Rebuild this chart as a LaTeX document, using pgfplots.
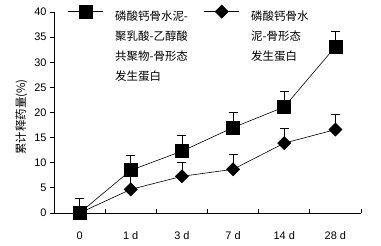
\documentclass[border=0pt]{standalone}
\usepackage{pgfplots}
\pgfplotsset{compat=1.18}
\usepackage{fontspec}
\setmainfont{Liberation Sans}
\newfontfamily\cjk{Noto Sans CJK SC}
\begin{document}
\begin{tikzpicture}
\useasboundingbox (-54bp,-33bp) rectangle (327bp,213bp);
\begin{axis}[
  at={(0,0)}, anchor=south west,
  width=307bp, height=201bp, scale only axis,
  xmin=-0.5, xmax=5.5, ymin=0, ymax=40,
  axis lines*=left,
  axis line style={line width=0.8pt},
  clip=false,
  /pgf/number format/assume math mode=true,
  tick label style={font=\fontsize{11}{12}\selectfont},
  xtick={0.5,1.5,2.5,3.5,4.5,5.5},
  xticklabels={0,1 d,3 d,7 d,14 d,28 d},
  x tick label style={xshift=-25.6bp, yshift=-15bp},
  ytick={0,5,...,40},
  tick align=inside,
  major tick length=4bp,
  tick style={black, line width=0.8pt},
  y tick style={xshift=-4bp},
  y tick label style={xshift=-4bp},
  ylabel={\cjk 累计释药量(\%)},
  ylabel style={font=\fontsize{11.5}{12}\selectfont, at={(ticklabel cs:0.478)}},
  legend columns=2,
  legend cell align=left,
  legend style={draw=none, fill=none, at={(0.035,1.045)}, anchor=north west,
    font=\cjk\fontsize{11.5}{20}\selectfont,
    nodes={align=left, anchor=north west, yshift=3bp},
    /tikz/every even column/.append style={column sep=14bp}},
  legend image code/.code={\path[draw=none,fill=none] (0bp,-2bp) rectangle (45bp,2bp);\draw[mark repeat=2,mark phase=2,#1] plot coordinates {(0bp,0bp) (17.5bp,0bp) (35bp,0bp)};},
]
\addplot+[black, line width=0.6pt, mark=square*, mark size=6.5bp, mark options={fill=black, solid},
  error bars/.cd, y dir=plus, y explicit,
  error bar style={line width=0.6pt, black},
  error mark options={black, mark size=4.5bp, line width=0.6pt, rotate=90}]
coordinates {
(0,0) +- (0,3.0)
(1,8.5) +- (0,2.9)
(2,12.3) +- (0,3.1)
(3,17.0) +- (0,3.0)
(4,21.1) +- (0,3.2)
(5,33.1) +- (0,3.1)
};
\addlegendentry{磷酸钙骨水泥-\\聚乳酸-乙醇酸\\共聚物-骨形态\\发生蛋白}
\addplot+[black, line width=0.6pt, mark=square*, mark size=4.6bp, mark options={fill=black, solid, rotate=45},
  error bars/.cd, y dir=plus, y explicit,
  error bar style={line width=0.6pt, black},
  error mark options={black, mark size=4.5bp, line width=0.6pt, rotate=90}]
coordinates {
(0,0) +- (0,0)
(1,4.7) +- (0,3.0)
(2,7.3) +- (0,2.8)
(3,8.7) +- (0,2.9)
(4,13.9) +- (0,3.0)
(5,16.6) +- (0,3.1)
};
\addlegendentry{磷酸钙骨水\\泥-骨形态\\发生蛋白}
\end{axis}
\end{tikzpicture}
\end{document}
